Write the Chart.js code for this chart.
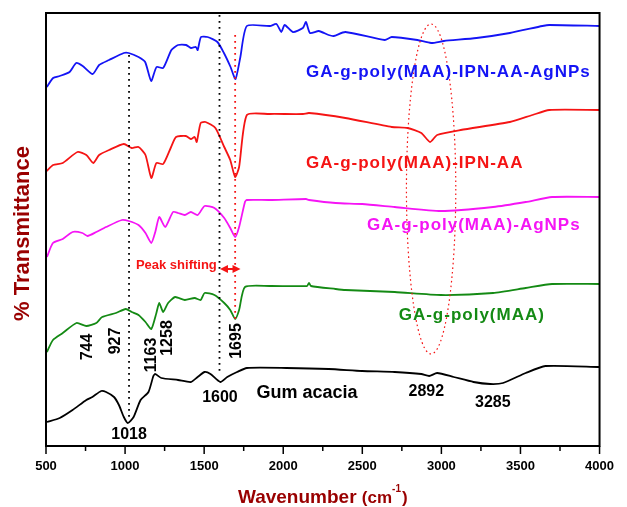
<!DOCTYPE html>
<html>
<head>
<meta charset="utf-8">
<script src="https://cdn.jsdelivr.net/npm/chart.js@4.4.1/dist/chart.umd.min.js"></script>
<style>
html,body{margin:0;padding:0;background:#fff;}
#wrap{width:627px;height:507px;position:relative;}
</style>
</head>
<body>
<div id="wrap"><canvas id="c" width="627" height="507"></canvas></div>
<script>
// ---------- DATA (wavenumber cm-1 / offset transmittance, a.u.) ----------
const xTicks = [500, 1000, 1500, 2000, 2500, 3000, 3500, 4000];

const blueWn = [505,545,587,649,691,732,795,836,899,992,1023,1085,1127,1165,1199,1241,1293,1335,1386,1417,1448,1459,1480,1521,1584,1625,1667,1698,1729,1770,1916,1957,1988,2009,2061,2124,2144,2169,2225,2287,2319,2393,2642,2686,2848,2935,3016,3222,3433,3639,3682,4000];
const blueT  = [359,368,370,374,383,380,372,381,386,393,393,389,384,365,379,378,396,401,401,398,399,396,409,409,404,393,379,367,389,420,420,422,414,421,414,418,424,413,415,411,410,414,406,409,406,403,405,408,413,420,421,420];

const redWn = [505,545,606,699,755,799,836,899,992,1042,1085,1129,1166,1198,1241,1291,1322,1384,1416,1440,1453,1478,1509,1571,1627,1665,1696,1721,1770,1914,2125,2163,2393,2686,2786,2873,2929,2973,3122,3433,3576,3682,4000];
const redT  = [275,281,283,294,291,283,291,296,302,298,299,291,268,283,282,299,309,310,307,309,304,323,324,318,299,286,269,279,331,332,332,333,328,319,318,313,304,311,316,324,331,336,336];

const magWn = [506,544,606,668,730,762,818,880,980,1023,1085,1129,1166,1191,1216,1254,1303,1335,1378,1416,1459,1503,1565,1627,1665,1696,1721,1758,1770,1914,2144,2163,2331,2499,2705,2997,3327,3533,3700,4000];
const magT  = [189,203,207,214,213,210,214,219,226,225,221,213,203,214,229,219,234,233,231,234,231,240,238,228,218,209,219,244,246,246,247,246,243,242,239,235,239,244,249,249];

const grnWn = [506,544,606,693,755,818,855,942,1004,1042,1085,1129,1166,1198,1216,1241,1272,1316,1378,1440,1478,1503,1565,1627,1665,1696,1721,1758,1914,2150,2163,2175,2331,2393,2705,2997,3327,3533,3700,4000];
const grnT  = [94,106,113,123,120,123,129,133,137,134,131,124,117,133,143,134,143,149,146,148,146,153,151,143,136,127,136,159,160,160,163,160,157,156,154,151,153,158,162,162];

const blkWn = [506,587,668,755,793,849,880,930,961,992,1017,1054,1098,1148,1179,1191,1229,1335,1416,1459,1503,1540,1602,1646,1708,1770,2020,2287,2499,2705,2873,2923,2973,3078,3203,3309,3390,3533,3658,4000];
const blkT  = [24,28,36,46,49,55,54,49,41,29,23,29,46,54,70,72,68,66,64,69,74,72,64,69,74,78,78,77,75,74,72,70,73,69,64,62,63,73,80,79];

const seriesNames = ["GA-g-poly(MAA)-IPN-AA-AgNPs","GA-g-poly(MAA)-IPN-AA","GA-g-poly(MAA)-AgNPs","GA-g-poly(MAA)","Gum acacia"];

// peak labels: [text, wavenumber, transmittance, rotated]
const peakLabels = [
  ["744", 762, 99, true],
  ["927", 940, 105, true],
  ["1163", 1170, 91, true],
  ["1258", 1270, 108, true],
  ["1695", 1705, 105, true],
  ["1018", 1025, 11, false],
  ["1600", 1600, 48, false],
  ["2892", 2905, 54, false],
  ["3285", 3325, 43, false]
];

// --------------------------------------------------------------------------
const colors = ['#1414f5','#f51414','#f514f5','#148a14','#000000'];
const wnSets = [blueWn, redWn, magWn, grnWn, blkWn];
const tSets = [blueT, redT, magT, grnT, blkT];

const datasets = wnSets.map((wn, i) => ({
  label: seriesNames[i],
  data: wn.map((x, j) => ({x: x, y: tSets[i][j]})),
  borderColor: colors[i],
  borderWidth: 1.8,
  pointRadius: 0,
  tension: 0.2,
  fill: false
}));

const FONT = '"Liberation Sans", Arial, sans-serif';

const deco = {
  id: 'deco',
  afterDatasetsDraw(chart) {
    const ctx = chart.ctx;
    const xs = chart.scales.x, ys = chart.scales.y;
    const X = v => xs.getPixelForValue(v);
    const Y = v => ys.getPixelForValue(v);
    const a = chart.chartArea;
    ctx.save();

    // dotted vertical markers
    function vline(wn, y1, y2, col, lw, dash) {
      ctx.beginPath();
      ctx.strokeStyle = col; ctx.lineWidth = lw; ctx.setLineDash(dash);
      ctx.moveTo(X(wn), Y(y1)); ctx.lineTo(X(wn), Y(y2)); ctx.stroke();
    }
    vline(1025, 391, 26, '#000', 1.8, [1.8, 4.2]);
    vline(1597, 431, 71, '#000', 1.8, [1.8, 4.2]);
    vline(1696, 411, 126, '#f51414', 1.8, [1.8, 4.2]);

    // dotted ellipse around 2900 region
    ctx.beginPath();
    ctx.strokeStyle = '#f51414'; ctx.lineWidth = 1.2; ctx.setLineDash([1.6, 3]);
    const cx = X(2935), cy = Y(257);
    const rx = X(2935 + 156) - cx, ry = Math.abs(Y(257 + 165) - cy);
    ctx.ellipse(cx, cy, rx, ry, 0, 0, Math.PI * 2);
    ctx.stroke();
    ctx.setLineDash([]);

    // Peak shifting text + double arrow
    ctx.fillStyle = '#f51414';
    ctx.font = 'bold 13px ' + FONT;
    ctx.textAlign = 'right'; ctx.textBaseline = 'middle';
    ctx.fillText('Peak shifting', X(1580), Y(181));
    const ax1 = X(1600), ax2 = X(1730), ay = Y(177);
    ctx.beginPath();
    ctx.moveTo(ax1, ay); ctx.lineTo(ax1 + 8, ay - 4); ctx.lineTo(ax1 + 8, ay - 1);
    ctx.lineTo(ax2 - 8, ay - 1); ctx.lineTo(ax2 - 8, ay - 4); ctx.lineTo(ax2, ay);
    ctx.lineTo(ax2 - 8, ay + 4); ctx.lineTo(ax2 - 8, ay + 1);
    ctx.lineTo(ax1 + 8, ay + 1); ctx.lineTo(ax1 + 8, ay + 4); ctx.closePath();
    ctx.fill();

    // series labels
    const sl = [[2144, 369], [2144, 278], [2530, 216], [2730, 126]];
    ctx.textAlign = 'left'; ctx.textBaseline = 'alphabetic';
    ctx.font = 'bold 17px ' + FONT;
    try { ctx.letterSpacing = '1px'; } catch(e) {}
    for (let i = 0; i < 4; i++) {
      ctx.fillStyle = colors[i];
      ctx.fillText(seriesNames[i], X(sl[i][0]), Y(sl[i][1]));
    }
    try { ctx.letterSpacing = '0px'; } catch(e) {}
    ctx.fillStyle = '#000';
    ctx.font = 'bold 18px ' + FONT;
    ctx.textAlign = 'center'; ctx.textBaseline = 'middle';
    ctx.fillText(seriesNames[4], X(2150), Y(53));

    // peak numbers
    ctx.font = 'bold 16px ' + FONT;
    peakLabels.forEach(p => {
      const px = X(p[1]), py = Y(p[2]);
      if (p[3]) {
        ctx.save(); ctx.translate(px, py); ctx.rotate(-Math.PI / 2);
        ctx.fillText(p[0], 0, 0); ctx.restore();
      } else {
        ctx.fillText(p[0], px, py);
      }
    });

    // frame
    ctx.strokeStyle = '#000'; ctx.lineWidth = 2;
    ctx.strokeRect(a.left, a.top, a.right - a.left, a.bottom - a.top);

    // x tick marks (outside)
    ctx.lineWidth = 1.5;
    for (let v = 500; v <= 4000; v += 250) {
      const px = X(v);
      const len = (v % 500 === 0) ? 8 : 5;
      ctx.beginPath(); ctx.moveTo(px, a.bottom); ctx.lineTo(px, a.bottom + len); ctx.stroke();
    }

    // axis titles
    const tc = '#990000';
    ctx.fillStyle = tc;
    ctx.save();
    ctx.translate(23, (a.top + a.bottom) / 2 + 4);
    ctx.rotate(-Math.PI / 2);
    ctx.font = 'bold 22px ' + FONT;
    ctx.textAlign = 'center'; ctx.textBaseline = 'middle';
    ctx.fillText('% Transmittance', 0, 0);
    ctx.restore();

    // x title with superscript
    const base = 503;
    const p1 = 'Wavenumber ', p2 = '(cm', p3 = '-1', p4 = ')';
    ctx.textAlign = 'left'; ctx.textBaseline = 'alphabetic';
    ctx.font = 'bold 19px ' + FONT; const w1 = ctx.measureText(p1).width;
    ctx.font = 'bold 17px ' + FONT; const w2 = ctx.measureText(p2).width;
    ctx.font = 'bold 10px ' + FONT; const w3 = ctx.measureText(p3).width;
    ctx.font = 'bold 17px ' + FONT; const w4 = ctx.measureText(p4).width;
    let sx = (a.left + a.right) / 2 - (w1 + w2 + w3 + w4 + 1) / 2;
    ctx.font = 'bold 19px ' + FONT; ctx.fillText(p1, sx, base); sx += w1;
    ctx.font = 'bold 17px ' + FONT; ctx.fillText(p2, sx, base); sx += w2;
    ctx.font = 'bold 10px ' + FONT; ctx.fillText(p3, sx, base - 11); sx += w3 + 1;
    ctx.font = 'bold 17px ' + FONT; ctx.fillText(p4, sx, base);
    ctx.restore();
  }
};

new Chart(document.getElementById('c'), {
  type: 'line',
  data: { datasets: datasets },
  options: {
    responsive: false,
    animation: false,
    layout: { padding: { left: 0, right: 19, top: 13, bottom: 0 } },
    plugins: { legend: { display: false }, tooltip: { enabled: false } },
    scales: {
      x: {
        type: 'linear', min: 500, max: 4000,
        afterFit: s => { s.height = 61; },
        grid: { display: false, drawTicks: false },
        border: { display: false },
        ticks: {
          stepSize: 250, autoSkip: false, maxRotation: 0, padding: 13,
          color: '#000', font: { family: FONT, size: 13, weight: 'bold' },
          callback: v => xTicks.includes(v) ? String(v) : ''
        }
      },
      y: {
        min: 0, max: 433,
        afterFit: s => { s.width = 46; },
        grid: { display: false, drawTicks: false },
        border: { display: false },
        ticks: { display: false }
      }
    }
  },
  plugins: [deco]
});
</script>
</body>
</html>
